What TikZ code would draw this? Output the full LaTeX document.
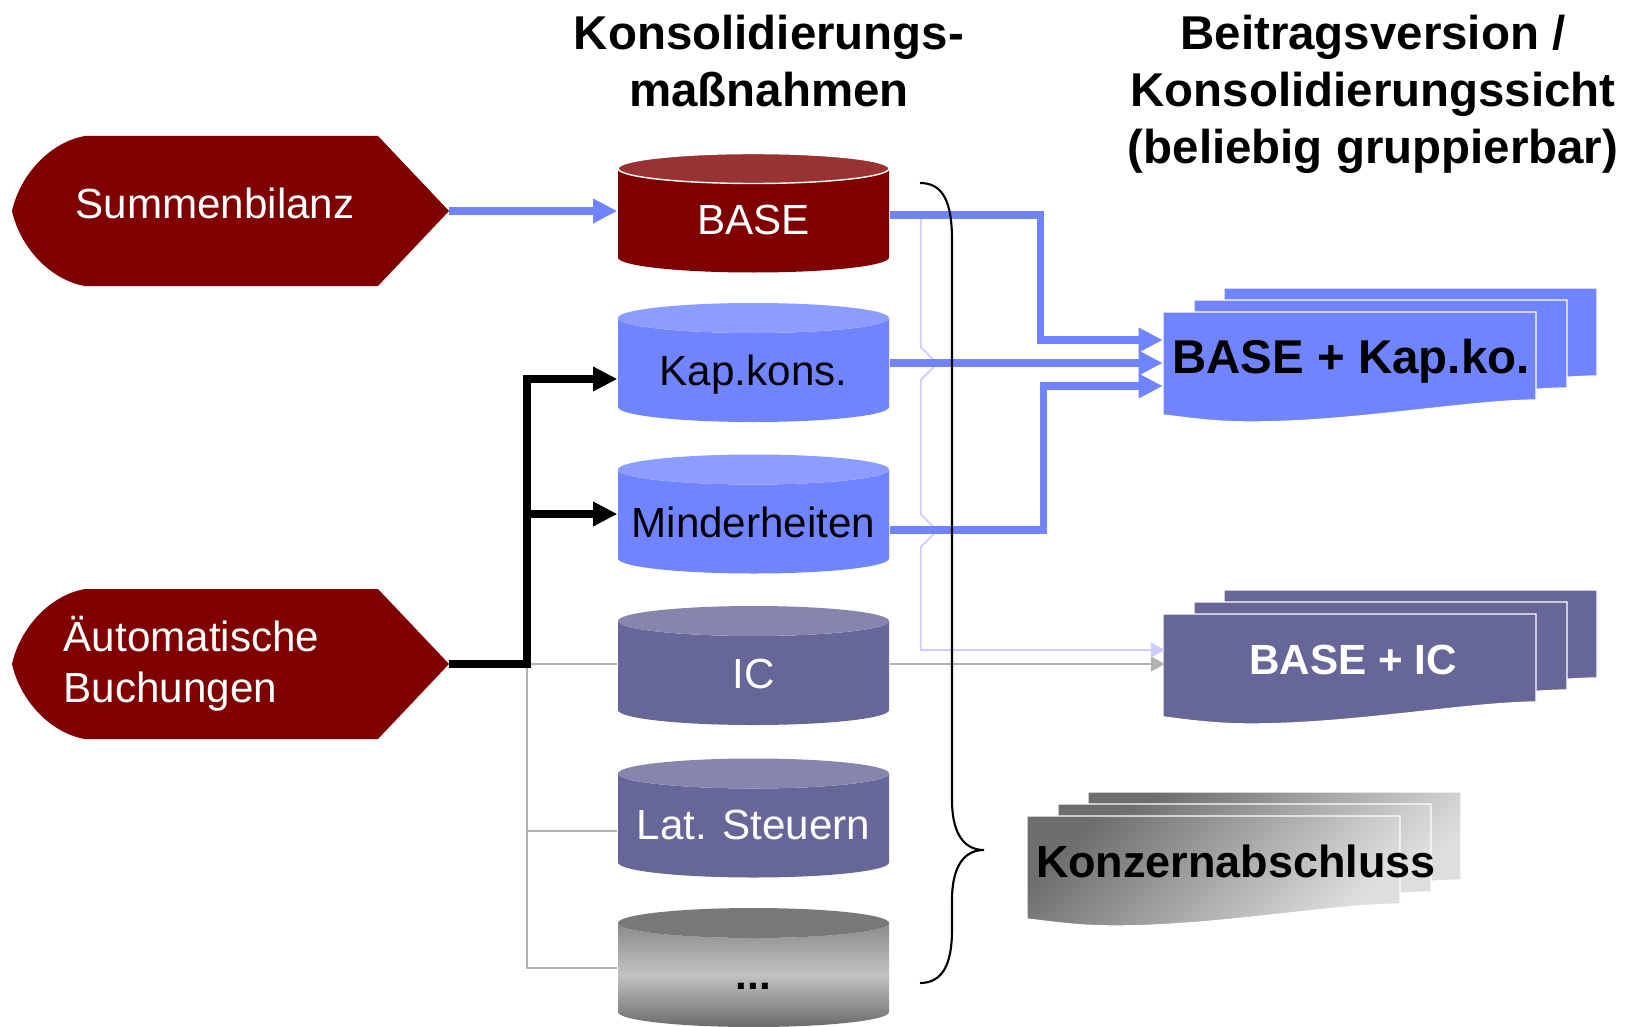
\documentclass[tikz,border=0pt]{standalone}
\usepackage{fontspec}
\setmainfont{Liberation Sans}
\usetikzlibrary{arrows.meta,calc}

\definecolor{darkred}{RGB}{128,0,0}
\definecolor{baselid}{RGB}{153,51,51}
\definecolor{konsblue}{RGB}{112,132,255}
\definecolor{konsbluelid}{RGB}{140,156,255}
\definecolor{paleblue}{RGB}{204,204,255}
\definecolor{icpurple}{RGB}{102,102,153}
\definecolor{icpurplelid}{RGB}{133,133,173}
\definecolor{linegray}{RGB}{178,178,178}

% data cylinder: #1 top of the side, #2 body fill, #3 lid fill
\newcommand{\datacyl}[3]{%
  \begin{scope}[shift={(0,#1)}]
    \path[#2] (618,0) -- (618,89) arc[start angle=180,end angle=0,x radius=135.5,y radius=15]
      -- (889,0) arc[start angle=0,end angle=180,x radius=135.5,y radius=15] -- cycle;
    \path[#3] (753.5,0) ellipse[x radius=135.5,y radius=15];
  \end{scope}}
% one sheet of a document stack, #1 top left corner
\newcommand{\docsheet}[2]{%
  \begin{scope}[shift={(#1)}]
    \path[#2,draw=white,line width=0.4pt] (0,0) -- (373,0) -- (373,88)
      .. controls (300,89) and (190,110) .. (88,110)
      .. controls (50,110) and (25,106) .. (0,103) -- cycle;
  \end{scope}}
\newcommand{\docstack}[2]{%
  \begin{scope}[shift={(#1)}]
    \docsheet{61,-24}{#2}
    \docsheet{31,-12}{#2}
    \docsheet{0,0}{#2}
  \end{scope}}
% input shape, #1 = middle height
\newcommand{\inputshape}[1]{%
  \fill[darkred,shift={(0,#1)}] (378,-75) -- (85,-75)
    .. controls (50,-69) and (20,-36) .. (12,0)
    .. controls (20,36) and (50,69) .. (85,75) -- (378,75) -- (449,0) -- cycle;}

\begin{document}
\begin{tikzpicture}[x=0.1mm,y=-0.1mm]
\tikzset{
% text styles
title/.style={font=\fontsize{13.5}{16.2}\selectfont\bfseries,align=center,inner sep=0},
intext/.style={text=white,font=\fontsize{12}{14.5}\selectfont,inner sep=0},
cyllabel/.style={minimum width=27.1mm,inner sep=0,text height=8.6pt,text depth=0pt,font=\fontsize{12}{14}\selectfont},
doclabel/.style={minimum width=37.5mm,inner sep=0,text height=9.67pt,text depth=0pt,font=\fontsize{13.5}{16}\selectfont\bfseries},
% connector styles
bluearrow/.style={konsblue,line width=2.1pt,-{Triangle[length=6.9pt,width=6.6pt]}},
blackarrow/.style={black,line width=2pt,-{Triangle[length=6.9pt,width=6.6pt]}},
grayline/.style={linegray,line width=0.55pt},
grayarrow/.style={grayline,-{Triangle[length=4pt,width=4.3pt]}},
palearrow/.style={paleblue,line width=0.5pt,-{Triangle[length=4pt,width=4.3pt]}}
}
\useasboundingbox (0,0) rectangle (1627,1027);

% headings
\node[title] (massn) at (769,61) {Konsolidierungs-\\maßnahmen};
\node[title] (sicht) at (1373,94) {Beitragsversion /\\Konsolidierungssicht\\(beliebig gruppierbar)};

% inputs
\inputshape{211}
\coordinate (summen-tip) at (449,211);
\node[intext] (summen) at (215,203) {Summenbilanz};
\inputshape{664}
\coordinate (auto-tip) at (449,664);
\node[intext,anchor=west,align=left] (auto) at (63,664) {Äutomatische\\Buchungen};

% the consolidation steps
\datacyl{168.5}{fill=darkred}{fill=baselid,draw=white,line width=0.4pt}
\datacyl{318}{fill=konsblue}{fill=konsbluelid}
\datacyl{469.5}{fill=konsblue}{fill=konsbluelid}
\datacyl{621}{fill=icpurple}{fill=icpurplelid}
\datacyl{773.5}{fill=icpurple}{fill=icpurplelid}
\datacyl{923}{top color=black!46,bottom color=black!58,middle color=black!24}{fill=black!53}
\node[cyllabel,text=white] (base) at (753.5,219) {BASE};
\node[cyllabel] (kap) at (753.5,370) {Kap.kons.};
\node[cyllabel] (mind) at (753.5,522) {Minderheiten};
\node[cyllabel,text=white] (ic) at (753.5,673) {IC};
\node[cyllabel,text=white] (lat) at (753.5,824) {Lat. Steuern};
\node[cyllabel,font=\fontsize{12}{14}\selectfont\bfseries] (dots) at (753.5,974) {...};

% views
\docstack{1163,312}{fill=konsblue}
\docstack{1163,614}{fill=icpurple}
\docstack{1027,816}{left color=black!57,right color=black!13,shading angle=45}
\node[doclabel] (kapko) at (1351,357) {BASE + Kap.ko.};
\node[doclabel,text=white,text height=8.6pt,font=\fontsize{12}{14}\selectfont\bfseries] (icdoc) at (1353,659) {BASE + IC};
\node[doclabel,text height=9.16pt,font=\fontsize{12.8}{15}\selectfont\bfseries] (konz) at (1236,861) {Konzernabschluss};

% automatic postings, thin part
\coordinate (fork) at (527,664);
\draw[grayline] (fork) |- ($(lat.west)+(0,7)$);
\draw[grayline] (fork) |- ($(dots.west)+(0,-6)$);
\draw[grayline] (fork) -- (ic.west |- fork);
\draw[grayarrow] (ic.east |- fork) -- (icdoc.west |- fork);

% BASE also feeds BASE + IC
\draw[palearrow] ($(base.east)+(31,-4)$) -- ++(0,132) -- ++(13,13) -- ++(0,7) -- ++(-13,13)
  -- ++(0,134) -- ++(13,13) -- ++(0,7) -- ++(-13,13) |- ($(icdoc.west)+(0,-9)$);

% into BASE + Kap.ko.
\draw[bluearrow] (summen-tip) -- (base.west |- summen-tip);
\draw[bluearrow] ($(base.east)+(0,-4)$) -- ++(151,0) |- ($(kapko.west)+(0,-17)$);
\draw[bluearrow] ($(kap.east)+(0,-7)$) -- ($(kapko.west)+(0,6)$);
\draw[bluearrow] ($(mind.east)+(0,8)$) -- ++(154,0) |- ($(kapko.west)+(0,29)$);

% brace over all steps
\draw[line width=0.6pt] (920,183) .. controls (942,183) and (952,200) .. (952,240) -- (952,800)
  .. controls (952,835) and (965,850) .. (984,850) .. controls (965,850) and (952,865) .. (952,900)
  -- (952,930) .. controls (952,965) and (942,983) .. (920,983);

% automatic postings, thick part
\draw[blackarrow] (auto-tip) -- (fork) |- ($(kap.west)+(0,9)$);
\draw[blackarrow] (fork) |- ($(mind.west)+(0,-8)$);
\end{tikzpicture}
\end{document}
